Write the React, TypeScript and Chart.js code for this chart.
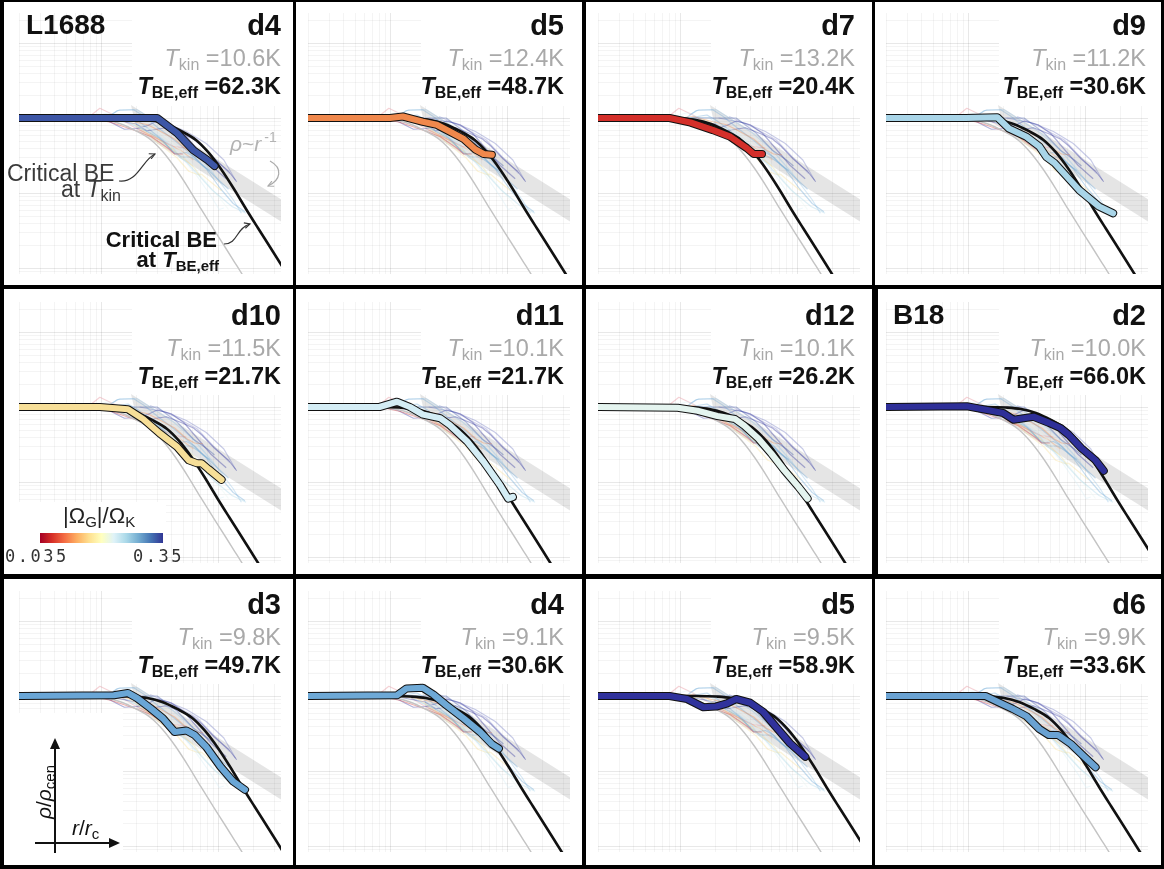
import React, { useEffect, useRef } from "react";
import { Chart, registerables } from "chart.js";

Chart.register(...registerables);

// ---------------- DATA ----------------
const panelNames = ["d4", "d5", "d7", "d9", "d10", "d11", "d12", "d2", "d3", "d4", "d5", "d6"];
const cloudLabels = ["L1688", "", "", "", "", "", "", "B18", "", "", "", ""];
const tKin = [10.6, 12.4, 13.2, 11.2, 11.5, 10.1, 10.1, 10.0, 9.8, 9.1, 9.5, 9.9];
const tBEeff = [62.3, 48.7, 20.4, 30.6, 21.7, 21.7, 26.2, 66.0, 49.7, 30.6, 58.9, 33.6];
// colour of each core on the |Omega_G|/Omega_K colour scale
const profileColors = [
  "#3d56a6", "#f0884c", "#d42f2a", "#a9d5e8", "#f7df98", "#d4edf5",
  "#e4f4ef", "#2e2f98", "#6aa6d6", "#6ea9d6", "#30329c", "#6aa2d2",
];

// density profiles: log10(r/r_c) and log10(rho/rho_cen)
const profileLogR = [
  [-0.69, 0.48, 0.65, 0.79, 0.91, 0.97],
  [-0.69, 0.0, 0.11, 0.28, 0.4, 0.51, 0.63, 0.73, 0.8, 0.87],
  [-0.69, -0.09, 0.09, 0.28, 0.43, 0.57, 0.63, 0.7],
  [-0.69, -0.02, 0.25, 0.35, 0.5, 0.61, 0.67, 0.74, 0.95, 1.12, 1.24],
  [-0.69, -0.01, 0.23, 0.36, 0.5, 0.65, 0.75, 0.82, 0.86, 0.92, 1.03],
  [-0.69, -0.09, 0.06, 0.17, 0.28, 0.43, 0.51, 0.66, 0.8, 0.94, 1.01, 1.05],
  [-0.69, -0.02, 0.15, 0.32, 0.47, 0.55, 0.67, 0.78, 0.89, 1.01, 1.09],
  [-0.69, -0.01, 0.13, 0.3, 0.39, 0.56, 0.69, 0.79, 0.86, 0.97, 1.09, 1.16],
  [-0.69, 0.11, 0.23, 0.31, 0.42, 0.53, 0.63, 0.73, 0.8, 0.9, 1.02, 1.13, 1.23],
  [-0.69, 0.06, 0.14, 0.28, 0.37, 0.48, 0.63, 0.77, 0.87, 0.93],
  [-0.69, -0.09, 0.06, 0.2, 0.31, 0.4, 0.48, 0.6, 0.71, 0.83, 0.94, 1.07],
  [-0.69, 0.15, 0.27, 0.38, 0.5, 0.61, 0.69, 0.77, 0.88, 0.98, 1.09],
];
const profileLogRho = [
  [0, 0, -0.2, -0.43, -0.56, -0.64],
  [0, 0.0, 0.02, -0.05, -0.09, -0.18, -0.28, -0.42, -0.48, -0.49],
  [0, 0, -0.06, -0.16, -0.25, -0.4, -0.48, -0.48],
  [0, 0, 0.01, -0.14, -0.25, -0.38, -0.52, -0.6, -0.96, -1.18, -1.27],
  [0, 0, -0.03, -0.16, -0.35, -0.53, -0.71, -0.75, -0.75, -0.83, -0.97],
  [0, 0, 0.07, 0, -0.1, -0.15, -0.24, -0.46, -0.73, -1.04, -1.22, -1.2],
  [0, -0.01, -0.05, -0.12, -0.16, -0.25, -0.42, -0.62, -0.84, -1.06, -1.22],
  [0, 0.01, -0.03, -0.08, -0.17, -0.13, -0.21, -0.28, -0.37, -0.55, -0.71, -0.85],
  [0, 0.01, 0.04, -0.03, -0.16, -0.3, -0.48, -0.46, -0.52, -0.68, -0.94, -1.14, -1.25],
  [0, 0.01, 0.1, 0.11, 0.02, -0.12, -0.3, -0.48, -0.64, -0.7],
  [0, 0, -0.04, -0.15, -0.14, -0.1, -0.04, -0.09, -0.21, -0.43, -0.63, -0.81],
  [0, 0, -0.09, -0.17, -0.27, -0.44, -0.52, -0.52, -0.64, -0.79, -0.95],
];

// other cores, drawn faintly in every panel
const extraLogR = [
  [-0.09, -0.01, 0.11, 0.28, 0.45, 0.62, 0.73],
  [0.08, 0.16, 0.31, 0.45, 0.62, 0.79, 0.96, 1.13, 1.2],
  [0.33, 0.56, 0.73, 0.9, 1.05, 1.15],
  [0.42, 0.62, 0.82, 0.96, 1.1],
  [0.42, 0.62, 0.79, 0.85],
  [0.33, 0.5, 0.68, 0.79],
];
const extraLogRho = [
  [0.03, 0.13, 0.04, -0.12, -0.25, -0.38, -0.4],
  [0.04, 0.11, 0.11, -0.03, -0.2, -0.43, -0.74, -1.09, -1.27],
  [0, -0.07, -0.18, -0.34, -0.56, -0.83],
  [0.02, -0.12, -0.29, -0.52, -0.74],
  [-0.2, -0.43, -0.65, -0.78],
  [-0.16, -0.29, -0.43, -0.56],
];
const extraColors = ["#e58a94", "#93c3e6", "#6f76c0", "#8789c8", "#f3d67e", "#f1a46c"];

// critical Bonnor-Ebert profile at T_kin (log10 r/r_c, log10 rho/rho_cen)
const beLogR = [-1.282, -0.256, -0.085, 0.043, 0.171, 0.299, 0.427, 0.53, 0.641, 0.752, 0.855, 0.957, 1.06, 1.162, 1.248];
const beLogRho = [0, 0, -0.007, -0.027, -0.08, -0.173, -0.293, -0.453, -0.68, -0.947, -1.213, -1.467, -1.72, -1.973, -2.187];

// rho ~ r^-1 band
const bandLogR = [0.256, 1.6, 1.6, 0.308];
const bandLogRho = [0.173, -1.143, -1.44, -0.173];

// axis ranges (log10)
const X_LOG_MIN = -0.7009;
const X_LOG_MAX = 1.5385;
const Y_LOG_MIN = -2.08;
const Y_LOG_MAX = 1.4;

// ---------------- LAYOUT ----------------
const FIG_W = 1164;
const FIG_H = 869;
const FONT = '"Liberation Sans", Arial, Helvetica, sans-serif';
const colBounds = [[4, 293], [296, 582], [586, 872], [875, 1161]];
const rowBounds = [[2, 285], [289, 574], [579, 865]];
const originX = [101, 390, 680, 968];
const originY = [118, 407, 696];
const textRowTop = [0, 290, 579];
const textRightX = [281, 564, 855, 1146];

function panelRect(i: number) {
  const row = Math.floor(i / 4);
  const col = i % 4;
  let left = colBounds[col][0];
  const right = colBounds[col][1];
  if (i === 7) left = 878;
  const top = rowBounds[row][0];
  const bottom = rowBounds[row][1];
  return { left, top, w: right - left, h: bottom - top, row, col, right, bottom };
}

const gridPlugin = {
  id: "logGrid",
  beforeDatasetsDraw(chart: any, _args: any, opts: any) {
    const { ctx, chartArea: a, scales } = chart;
    const xs = scales.x;
    const ys = scales.y;
    const ox = xs.getPixelForValue(1);
    const oy = ys.getPixelForValue(1);
    ctx.save();
    ctx.beginPath();
    ctx.rect(a.left, a.top, a.right - a.left, a.bottom - a.top);
    for (const m of opts.masks || []) {
      const x0 = Math.max(a.left, ox + m[0]);
      const x1 = Math.min(a.right, ox + m[1]);
      const y0 = Math.max(a.top, oy + m[2]);
      const y1 = Math.min(a.bottom, oy + m[3]);
      if (x1 > x0 && y1 > y0) ctx.rect(x0, y0, x1 - x0, y1 - y0);
    }
    ctx.clip("evenodd");
    ctx.lineWidth = 1;
    const major = "rgba(0,0,0,0.09)";
    const minor = "rgba(0,0,0,0.045)";
    for (let d = -2; d <= 2; d++) {
      for (let k = 1; k <= 9; k++) {
        const v = k * Math.pow(10, d);
        if (v < xs.min || v > xs.max) continue;
        const px = Math.round(xs.getPixelForValue(v)) + 0.5;
        ctx.strokeStyle = k === 1 ? major : minor;
        ctx.beginPath();
        ctx.moveTo(px, a.top);
        ctx.lineTo(px, a.bottom);
        ctx.stroke();
      }
    }
    for (let d = -4; d <= 2; d++) {
      for (let k = 1; k <= 9; k++) {
        const v = k * Math.pow(10, d);
        if (v < ys.min || v > ys.max) continue;
        const py = Math.round(ys.getPixelForValue(v)) + 0.5;
        ctx.strokeStyle = k === 1 ? major : minor;
        ctx.beginPath();
        ctx.moveTo(a.left, py);
        ctx.lineTo(a.right, py);
        ctx.stroke();
      }
    }
    ctx.restore();
  },
};

const toPts = (lr: number[], lrho: number[]) => lr.map((v, k) => ({ x: Math.pow(10, v), y: Math.pow(10, lrho[k]) }));

function withAlpha(hex: string, a: number) {
  const r = parseInt(hex.slice(1, 3), 16);
  const g = parseInt(hex.slice(3, 5), 16);
  const b = parseInt(hex.slice(5, 7), 16);
  return `rgba(${r},${g},${b},${a})`;
}

function buildConfig(i: number) {
  const rect = panelRect(i);
  const ox = originX[rect.col];
  const oy = originY[rect.row];
  const padding = {
    left: ox - 82 - rect.left,
    right: rect.right - (ox + 180),
    top: oy - 105 - rect.top,
    bottom: rect.bottom - (oy + 156),
  };
  const masks: number[][] = [[31, 600, -600, -12]];
  if (i === 8) masks.push([-600, 22, 17, 600]);
  if (i === 4) masks.push([-600, 65, 95, 600]);

  const common = { pointRadius: 0, pointHoverRadius: 0, clip: 0, borderJoinStyle: "round", tension: 0 };
  const datasets: any[] = [];
  datasets.push({
    ...common,
    data: toPts(bandLogR, bandLogRho),
    fill: "shape",
    backgroundColor: "rgba(0,0,0,0.1)",
    borderColor: "rgba(0,0,0,0)",
    borderWidth: 0,
    order: 30,
  });
  profileLogR.forEach((lr, k) => {
    datasets.push({
      ...common,
      data: toPts(lr, profileLogRho[k]),
      borderColor: withAlpha(profileColors[k], 0.38),
      borderWidth: 1.2,
      fill: false,
      order: 20,
    });
  });
  extraLogR.forEach((lr, k) => {
    datasets.push({
      ...common,
      data: toPts(lr, extraLogRho[k]),
      borderColor: withAlpha(extraColors[k], 0.38),
      borderWidth: 1.2,
      fill: false,
      order: 20,
    });
  });
  datasets.push({
    ...common,
    data: toPts(beLogR, beLogRho),
    borderColor: "#c4c4c4",
    borderWidth: 1.4,
    cubicInterpolationMode: "monotone",
    fill: false,
    order: 12,
  });
  const shift = 0.5 * Math.log10(tBEeff[i] / tKin[i]);
  datasets.push({
    ...common,
    data: toPts(beLogR.map((v) => v + shift), beLogRho),
    borderColor: "#111111",
    borderWidth: 2.6,
    cubicInterpolationMode: "monotone",
    fill: false,
    order: 11,
  });
  datasets.push({
    ...common,
    data: toPts(profileLogR[i], profileLogRho[i]),
    borderColor: "#111111",
    borderWidth: 8.2,
    borderCapStyle: "round",
    fill: false,
    order: 2,
  });
  datasets.push({
    ...common,
    data: toPts(profileLogR[i], profileLogRho[i]),
    borderColor: profileColors[i],
    borderWidth: 6.2,
    borderCapStyle: "round",
    fill: false,
    order: 1,
  });

  return {
    type: "line",
    data: { datasets },
    options: {
      responsive: false,
      animation: false,
      events: [],
      layout: { padding },
      plugins: {
        legend: { display: false },
        tooltip: { enabled: false },
        logGrid: { masks },
      },
      scales: {
        x: { type: "logarithmic", min: Math.pow(10, X_LOG_MIN), max: Math.pow(10, X_LOG_MAX), display: false },
        y: { type: "logarithmic", min: Math.pow(10, Y_LOG_MIN), max: Math.pow(10, Y_LOG_MAX), display: false },
      },
    },
    plugins: [gridPlugin],
  } as any;
}

function Panel({ index }: { index: number }) {
  const ref = useRef<HTMLCanvasElement | null>(null);
  const rect = panelRect(index);
  useEffect(() => {
    if (!ref.current) return;
    const chart = new Chart(ref.current, buildConfig(index));
    return () => chart.destroy();
  }, [index]);
  return (
    <div style={{ position: "absolute", left: rect.left, top: rect.top, width: rect.w, height: rect.h, background: "#fff" }}>
      <canvas ref={ref} width={rect.w} height={rect.h} style={{ display: "block", width: rect.w, height: rect.h }} />
    </div>
  );
}

function Txt(props: any) {
  const { x, y, size, align = "left", bold = false, color = "#111", family = FONT, children, italic = false } = props;
  const style: any = {
    position: "absolute",
    top: y - 0.846 * size,
    fontSize: size,
    lineHeight: `${size}px`,
    whiteSpace: "nowrap",
    color,
    fontWeight: bold ? 700 : 400,
    fontStyle: italic ? "italic" : "normal",
    fontFamily: family,
  };
  if (align === "left") style.left = x;
  else style.right = FIG_W - x;
  return <div style={style}>{children}</div>;
}

const Sub = ({ children, size, dy = 4 }: any) => (
  <span style={{ fontSize: size, position: "relative", top: dy }}>{children}</span>
);

function PanelText({ index }: { index: number }) {
  const row = Math.floor(index / 4);
  const col = index % 4;
  const rt = textRowTop[row];
  const rx = textRightX[col];
  return (
    <>
      <Txt x={rx} y={rt + 36} size={29} align="right" bold>
        {panelNames[index]}
      </Txt>
      <Txt x={rx} y={rt + 67} size={23.5} align="right" color="#a9a9a9">
        <i>T</i>
        <Sub size={16}>kin</Sub> ={tKin[index].toFixed(1)}K
      </Txt>
      <Txt x={rx} y={rt + 95} size={23.5} align="right" bold color="#111">
        <i>T</i>
        <Sub size={16}>BE,eff</Sub> ={tBEeff[index].toFixed(1)}K
      </Txt>
    </>
  );
}

export default function App() {
  useEffect(() => {
    document.body.style.margin = "0";
  }, []);
  return (
    <div
      style={{
        position: "absolute",
        left: 0,
        top: 0,
        width: FIG_W,
        height: FIG_H,
        background: "#000",
        overflow: "hidden",
        fontFamily: FONT,
      }}
    >
      {panelNames.map((_, i) => (
        <Panel key={i} index={i} />
      ))}
      {panelNames.map((_, i) => (
        <PanelText key={"t" + i} index={i} />
      ))}
      <Txt x={26} y={35} size={28} bold>
        {cloudLabels[0]}
      </Txt>
      <Txt x={893} y={325} size={28} bold>
        {cloudLabels[7]}
      </Txt>

      {/* annotations in the first panel */}
      <Txt x={230} y={151} size={21} color="#b3b3b3">
        <i>ρ</i>~<i>r</i>
        <span style={{ fontSize: 14, position: "relative", top: -9, marginLeft: 3 }}>-1</span>
      </Txt>
      <Txt x={7} y={181} size={23} color="#3a3a3a">
        Critical BE
      </Txt>
      <Txt x={121} y={197} size={23} align="right" color="#3a3a3a">
        at <i>T</i>
        <Sub size={16}>kin</Sub>
      </Txt>
      <Txt x={217} y={248} size={22} align="right" bold color="#111">
        Critical BE
      </Txt>
      <Txt x={219} y={268} size={22} align="right" bold color="#111">
        at <i>T</i>
        <Sub size={15}>BE,eff</Sub>
      </Txt>

      {/* colour bar in the d10 panel */}
      <Txt x={63} y={524} size={22} color="#222">
        |Ω<Sub size={15}>G</Sub>|/Ω<Sub size={15}>K</Sub>
      </Txt>
      <div
        style={{
          position: "absolute",
          left: 40,
          top: 533,
          width: 123,
          height: 10,
          background:
            "linear-gradient(to right, #a50026, #d73027, #f46d43, #fdae61, #fee090, #ffffbf, #e0f3f8, #abd9e9, #74add1, #4575b4, #313695)",
        }}
      />
      <Txt x={5} y={562} size={17} color="#333" family='"DejaVu Sans Mono", monospace'>
        <span style={{ letterSpacing: 2.5 }}>0.035</span>
      </Txt>
      <Txt x={184} y={562} size={17} align="right" color="#333" family='"DejaVu Sans Mono", monospace'>
        <span style={{ letterSpacing: 2.5 }}>0.35</span>
      </Txt>

      {/* axis legend in the B18 d3 panel */}
      <div
        style={{
          position: "absolute",
          left: 44,
          top: 792,
          transform: "translate(-50%, -50%) rotate(-90deg)",
          fontSize: 21,
          lineHeight: "21px",
          whiteSpace: "nowrap",
          color: "#111",
          fontFamily: FONT,
        }}
      >
        <i>ρ</i>/<i>ρ</i>
        <Sub size={15}>cen</Sub>
      </div>
      <Txt x={72} y={835} size={21} color="#111">
        <i>r</i>/<i>r</i>
        <Sub size={15}>c</Sub>
      </Txt>

      <svg
        width={FIG_W}
        height={FIG_H}
        style={{ position: "absolute", left: 0, top: 0, pointerEvents: "none" }}
      >
        <defs>
          <marker id="hDark" viewBox="0 0 10 10" refX="9" refY="5" markerWidth="7" markerHeight="7" markerUnits="userSpaceOnUse" orient="auto">
            <path d="M1,1 L9,5 L1,9" fill="none" stroke="#333" strokeWidth="1.6" />
          </marker>
          <marker id="hGrey" viewBox="0 0 10 10" refX="9" refY="5" markerWidth="7" markerHeight="7" markerUnits="userSpaceOnUse" orient="auto">
            <path d="M1,1 L9,5 L1,9" fill="none" stroke="#aaa" strokeWidth="1.6" />
          </marker>
        </defs>
        <path d="M119,181 C138,183 142,160 155,154" fill="none" stroke="#333" strokeWidth={1.2} markerEnd="url(#hDark)" />
        <path d="M270,161 C283,168 281,180 268,186" fill="none" stroke="#aaa" strokeWidth={1.2} markerEnd="url(#hGrey)" />
        <path d="M224,244 C238,244 236,228 250,224" fill="none" stroke="#333" strokeWidth={1.2} markerEnd="url(#hDark)" />
        {/* axis arrows */}
        <line x1={55} y1={853} x2={55} y2={747} stroke="#111" strokeWidth={2} />
        <polygon points="55,738 50,749 60,749" fill="#111" />
        <line x1={35} y1={843} x2={110} y2={843} stroke="#111" strokeWidth={2} />
        <polygon points="120,843 109,838 109,848" fill="#111" />
      </svg>
    </div>
  );
}
